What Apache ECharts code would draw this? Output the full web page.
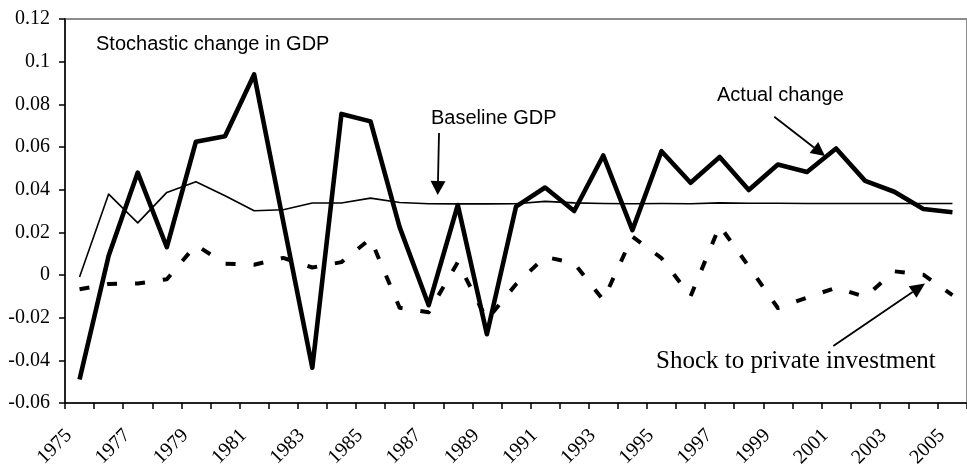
<!DOCTYPE html>
<html>
<head>
<meta charset="utf-8">
<script src="https://cdn.jsdelivr.net/npm/echarts@6/dist/echarts.min.js"></script>
<style>
html,body{margin:0;padding:0;background:#fff;}
#main{width:967px;height:470px;}
</style>
</head>
<body>
<div id="main"></div>
<script>
const years = ['1975','1976','1977','1978','1979','1980','1981','1982','1983','1984','1985','1986','1987','1988','1989','1990','1991','1992','1993','1994','1995','1996','1997','1998','1999','2000','2001','2002','2003','2004','2005'];
const actualChange = [-0.049, 0.009, 0.048, 0.013, 0.0625, 0.065, 0.094, 0.025, -0.0435, 0.0755, 0.072, 0.0224, -0.0142, 0.0328, -0.0278, 0.032, 0.041, 0.030, 0.056, 0.021, 0.058, 0.0432, 0.0553, 0.0398, 0.0518, 0.0483, 0.0593, 0.0441, 0.039, 0.0309, 0.0294];
const baselineGDP = [-0.001, 0.0379, 0.0244, 0.0387, 0.0437, 0.0371, 0.0301, 0.0306, 0.0337, 0.0337, 0.036, 0.034, 0.0334, 0.0333, 0.0333, 0.0334, 0.0345, 0.0338, 0.0335, 0.0334, 0.0335, 0.0334, 0.0338, 0.0336, 0.0336, 0.0335, 0.0335, 0.0335, 0.0335, 0.0335, 0.0335];
const shockInvestment = [-0.0067, -0.0042, -0.0040, -0.002, 0.014, 0.0053, 0.0048, 0.008, 0.0035, 0.006, 0.017, -0.0154, -0.0175, 0.006, -0.021, -0.0044, 0.0085, 0.0055, -0.0118, 0.018, 0.0079, -0.0100, 0.023, 0.004, -0.0155, -0.0106, -0.006, -0.0103, 0.0017, 0.0001, -0.0095];
const yTicks = {min: -0.06, max: 0.12, interval: 0.02};

const serif = "'Liberation Serif', 'Times New Roman', serif";
const sans = "'Liberation Sans', Arial, sans-serif";

const chart = echarts.init(document.getElementById('main'), null, {renderer: 'canvas'});

function arrow(x1, y1, x2, y2, headLen, halfW) {
  const dx = x2 - x1, dy = y2 - y1;
  const L = Math.sqrt(dx*dx + dy*dy);
  const ux = dx / L, uy = dy / L;
  const bx = x2 - ux*headLen, by = y2 - uy*headLen;
  const px = -uy, py = ux;
  return [
    {type: 'line', shape: {x1: x1, y1: y1, x2: bx, y2: by}, style: {stroke: '#000', lineWidth: 1.8}, z: 100},
    {type: 'polygon', shape: {points: [[x2, y2], [bx + px*halfW, by + py*halfW], [bx - px*halfW, by - py*halfW]]}, style: {fill: '#000'}, z: 100}
  ];
}

const graphics = [
  {type: 'text', x: 96, y: 44, style: {text: 'Stochastic change in GDP', font: '20px ' + sans, fill: '#000', verticalAlign: 'middle'}, z: 100},
  {type: 'text', x: 431, y: 118, style: {text: 'Baseline GDP', font: '20px ' + sans, fill: '#000', verticalAlign: 'middle'}, z: 100},
  {type: 'text', x: 717, y: 95, style: {text: 'Actual change', font: '20px ' + sans, fill: '#000', verticalAlign: 'middle'}, z: 100},
  {type: 'text', x: 656, y: 361, style: {text: 'Shock to private investment', font: '25px ' + serif, fill: '#000', verticalAlign: 'middle'}, z: 100}
].concat(arrow(439, 133, 437.7, 195, 14, 7.5))
 .concat(arrow(774.3, 116.7, 825, 156, 14, 7))
 .concat(arrow(833.3, 346, 925, 283.5, 15, 7));

const option = {
  animation: false,
  backgroundColor: '#fff',
  grid: {left: 65, right: -8.5, top: 19, bottom: 65, show: true, borderColor: '#8c8c8c', borderWidth: 2, backgroundColor: 'transparent'},
  xAxis: {
    type: 'category',
    data: years,
    boundaryGap: true,
    axisLine: {onZero: false, lineStyle: {color: '#000', width: 1.5}},
    axisTick: {show: true, interval: 0, length: 6, inside: false, lineStyle: {color: '#000', width: 1.5}},
    axisLabel: {interval: 1, rotate: 45, margin: 19, padding: [0, 15, 0, 0], fontFamily: serif, fontSize: 20, color: '#000'},
    splitLine: {show: false}
  },
  yAxis: {
    type: 'value',
    min: yTicks.min, max: yTicks.max, interval: yTicks.interval,
    axisLine: {show: true, onZero: false, lineStyle: {color: '#000', width: 1.5}},
    axisTick: {show: true, length: 6, inside: false, lineStyle: {color: '#000', width: 1.5}},
    axisLabel: {margin: 15, fontFamily: serif, fontSize: 20, color: '#000',
      formatter: function (v) { return String(parseFloat(v.toFixed(2))); }},
    splitLine: {show: false}
  },
  series: [
    {name: 'Baseline GDP', type: 'line', data: baselineGDP, symbol: 'none', lineStyle: {color: '#000', width: 1.6, join: 'round'}, z: 3},
    {name: 'Shock to private investment', type: 'line', data: shockInvestment, symbol: 'none', lineStyle: {color: '#000', width: 4, type: [10, 18], cap: 'butt', join: 'round'}, z: 4},
    {name: 'Actual change', type: 'line', data: actualChange, symbol: 'none', lineStyle: {color: '#000', width: 4.6, join: 'round', cap: 'butt'}, z: 5}
  ],
  graphic: graphics
};
chart.setOption(option);
</script>
</body>
</html>
